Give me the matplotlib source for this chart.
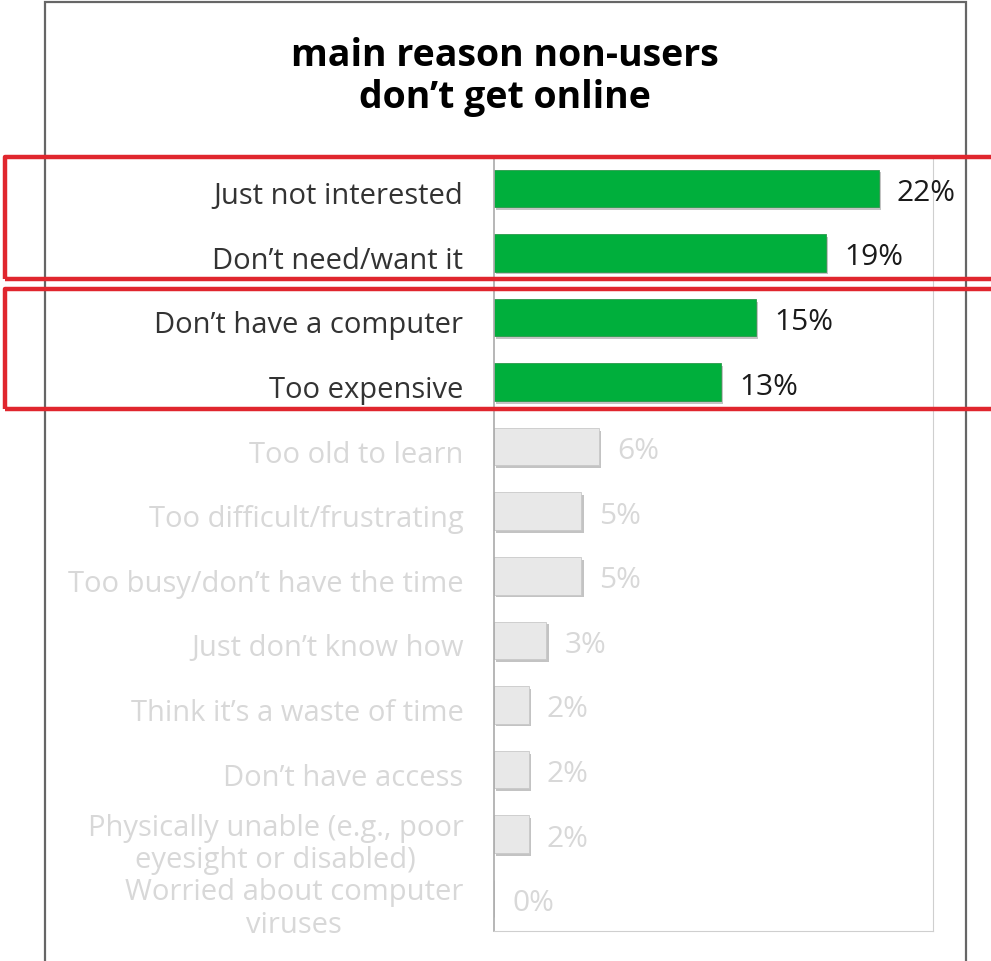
import matplotlib
matplotlib.use('Agg')
import matplotlib.pyplot as plt
import matplotlib.patheffects as pe
import matplotlib.transforms as mtransforms
from matplotlib.patches import Rectangle

plt.rcParams['font.family'] = ['Open Sans', 'DejaVu Sans']

reasons = ['Just not interested', 'Don\u2019t need/want it', 'Don\u2019t have a computer',
           'Too expensive', 'Too old to learn', 'Too difficult/frustrating',
           'Too busy/don\u2019t have the time', 'Just don\u2019t know how',
           'Think it\u2019s a waste of time', 'Don\u2019t have access',
           'Physically unable (e.g., poor\neyesight or disabled)',
           'Worried about computer\nviruses']
pct = [22, 19, 15, 13, 6, 5, 5, 3, 2, 2, 2, 0]
highlight = [True, True, True, True, False, False, False, False, False, False, False, False]

green = '#00af3c'
grey_bar = '#e8e8e8'
grey_txt = '#d8d8d8'

fig = plt.figure(figsize=(9.91, 9.62), dpi=100)
W, H = 991.0, 962.0
ax = fig.add_axes([494/W, 1-932/H, (933-494)/W, (932-157)/H])

y = list(range(len(reasons)))
shadow = [pe.SimplePatchShadow(offset=(1.5, -2), shadow_rgbFace='#555555', alpha=0.35), pe.Normal()]
for i in y:
    if highlight[i]:
        b = ax.barh(i, pct[i], height=0.58, color=green, edgecolor='#2a9a4a', linewidth=0.6)
        tc = '#1a1a1a'
    else:
        b = ax.barh(i, pct[i], height=0.58, color=grey_bar, edgecolor='#c8c8c8', linewidth=0.6)
        tc = grey_txt
    if pct[i] > 0:
        b[0].set_path_effects(shadow)
    ax.annotate('%d%%' % pct[i], (pct[i], i), xytext=(18, -4), textcoords='offset pixels',
                va='center', ha='left', fontsize=21.5, color=tc)

ax.set_xlim(0, 25.1)
ax.set_ylim(len(reasons) - 0.5, -0.5)
ax.set_xticks([])
ax.set_yticks(y)
ax.set_yticklabels(reasons, fontsize=21, linespacing=1.15, multialignment='center')
ax.tick_params(axis='y', length=0, pad=22)
shift = mtransforms.ScaledTranslation(0, -4/100, fig.dpi_scale_trans)
for lab, h in zip(ax.get_yticklabels(), highlight):
    lab.set_color('#333333' if h else grey_txt)
    lab.set_transform(lab.get_transform() + shift)
for s in ['top', 'right', 'bottom']:
    ax.spines[s].set_color('#cfcfcf')
    ax.spines[s].set_linewidth(0.8)
ax.spines['left'].set_color('#aaaaaa')
ax.spines['left'].set_linewidth(1.2)

fig.text(505/W, 1-77/H, 'main reason non-users\ndon\u2019t get online', ha='center', va='center',
         fontsize=27, fontweight='bold', color='black', linespacing=1.12)

# outer frame
fig.patches.append(Rectangle((45/W, -0.05), (966-45)/W, 1.05 - 3/H, transform=fig.transFigure,
                             fill=False, edgecolor='#666666', linewidth=1.6))
# red highlight boxes
for top, bot in [(158, 280), (290, 410)]:
    fig.patches.append(Rectangle((5/W, 1-bot/H), (1010-5)/W, (bot-top)/H, transform=fig.transFigure,
                                 fill=False, edgecolor='#e0262e', linewidth=3.2, joinstyle='round'))

fig.savefig('out.png', dpi=100)
